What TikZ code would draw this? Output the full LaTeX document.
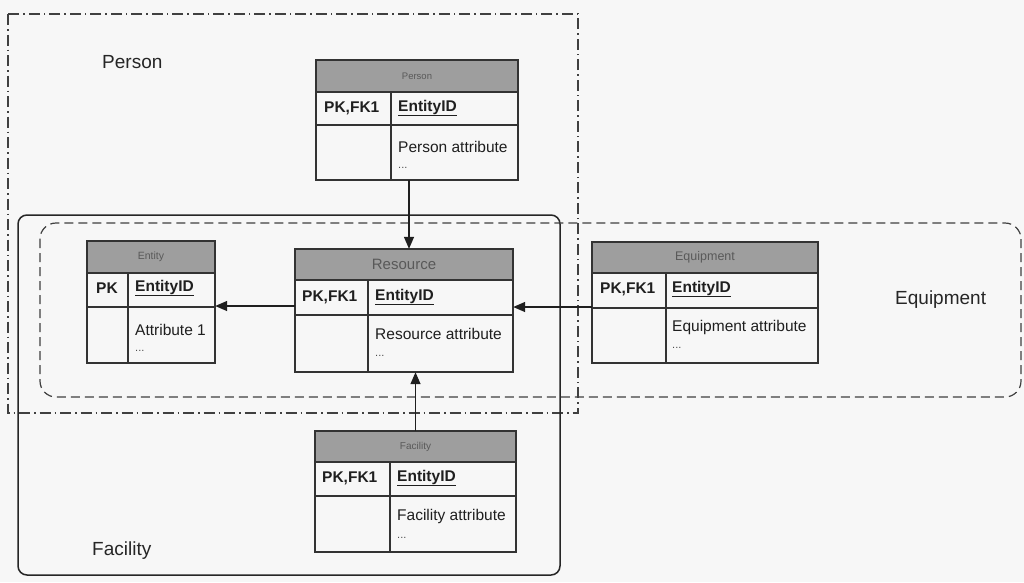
\documentclass[tikz,border=0pt]{standalone}
\usepackage{fontspec}
\setmainfont{Liberation Sans}
\usetikzlibrary{arrows.meta,fit}
\tikzset{
  tblline/.style={draw=black!80, line width=1.2pt},
  hdrfill/.style={fill=black!38},
  hdrtext/.style={text=black!65, inner sep=0pt},
  body/.style={anchor=west, inner sep=0pt, text=black!88, font=\fontsize{15.5}{18}\selectfont},
  bodyb/.style={body, font=\fontsize{15.5}{18}\selectfont\bfseries},
  dots/.style={anchor=west, inner sep=0pt, text=black!70, font=\fontsize{11}{12}\selectfont},
  rel/.style={draw=black!88, line width=1.4pt, -{Triangle[length=12pt,width=10pt]}},
  personreg/.style={draw=black!75, line width=1.2pt, dash pattern=on 11pt off 4pt on 1.5pt off 4pt},
  equipreg/.style={draw=black!75, line width=1.2pt, dash pattern=on 9pt off 5pt},
  facreg/.style={draw=black!85, line width=1.5pt, rounded corners=9pt},
  reglabel/.style={anchor=west, inner sep=0pt, text=black!85, font=\fontsize{19}{22}\selectfont}
}
\newcommand\ertab[9]{%
  \fill[hdrfill] (#2,#4) rectangle (#3,#5);
  \draw[tblline] (#2,#4) rectangle (#3,#7);
  \draw[tblline] (#2,#5) -- (#3,#5) (#2,#6) -- (#3,#6) (#8,#5) -- (#8,#7);
  \node[hdrtext] (#1-h) at ({(#2+#3)/2},{(#4+#5)/2}) {#9};
  \path (#2,#4) coordinate (#1-nw) (#3,#7) coordinate (#1-se);
  \node[inner sep=0pt, fit=(#1-nw)(#1-se)] (#1) {};
}
\begin{document}
\begin{tikzpicture}[x=1pt,y=-1pt]
\useasboundingbox (0,0) rectangle (1024,582);
\fill[black!3] (0,0) rectangle (1024,582);

% regions
\draw[personreg] (8,14) rectangle (578,413);
\draw[facreg] (18,215) rectangle (560,575);
\draw[equipreg, rounded corners=16pt] (40,223) rectangle (1021,397);

\node[reglabel] (lperson) at (102,62) {Person};
\node[reglabel] (lequip) at (895,300) {Equipment};
\node[reglabel] (lfac) at (92,551) {Facility};

% tables
\ertab{person}{316}{518}{60}{92}{125}{180}{391}{\fontsize{9.5}{11}\selectfont Person}
\node[bodyb] (person-pk) at (324,108) {PK,FK1};
\node[bodyb] (person-id) at (398,108) {\underline{EntityID}};
\node[body] (person-a) at (398,147) {Person attribute};
\node[dots] (person-d) at (398,168) {...};

\ertab{entity}{87}{215}{241}{273}{307}{363}{128}{\fontsize{10.5}{12}\selectfont Entity}
\node[bodyb] (entity-pk) at (96,288) {PK};
\node[bodyb] (entity-id) at (135,288) {\underline{EntityID}};
\node[body] (entity-a) at (135,330) {Attribute 1};
\node[dots] (entity-d) at (135,351) {...};

\ertab{resource}{295}{513}{249}{280}{315}{372}{368}{\fontsize{15}{17}\selectfont Resource}
\node[bodyb] (resource-pk) at (302,297) {PK,FK1};
\node[bodyb] (resource-id) at (375,297) {\underline{EntityID}};
\node[body] (resource-a) at (375,334) {Resource attribute};
\node[dots] (resource-d) at (375,356) {...};

\ertab{equipment}{592}{818}{242}{273}{308}{363}{666}{\fontsize{12.5}{14}\selectfont Equipment}
\node[bodyb] (equipment-pk) at (600,289) {PK,FK1};
\node[bodyb] (equipment-id) at (672,289) {\underline{EntityID}};
\node[body] (equipment-a) at (672,327) {Equipment attribute};
\node[dots] (equipment-d) at (672,348) {...};

\ertab{facility}{315}{516}{431}{462}{496}{552}{390}{\fontsize{10}{11}\selectfont Facility}
\node[bodyb] (facility-pk) at (322,478) {PK,FK1};
\node[bodyb] (facility-id) at (397,478) {\underline{EntityID}};
\node[body] (facility-a) at (397,516) {Facility attribute};
\node[dots] (facility-d) at (397,538) {...};

% relationships
\coordinate (yre) at (0,306);
\coordinate (yeq) at (0,307);
\draw[rel] ([xshift=-8pt]person.south) -- ([xshift=-8pt]person.south |- resource.north);
\draw[rel] (facility.north) -- (facility.north |- resource.south);
\draw[rel] (resource.west |- yre) -- (entity.east |- yre);
\draw[rel] (equipment.west |- yeq) -- (resource.east |- yeq);
\end{tikzpicture}
\end{document}
